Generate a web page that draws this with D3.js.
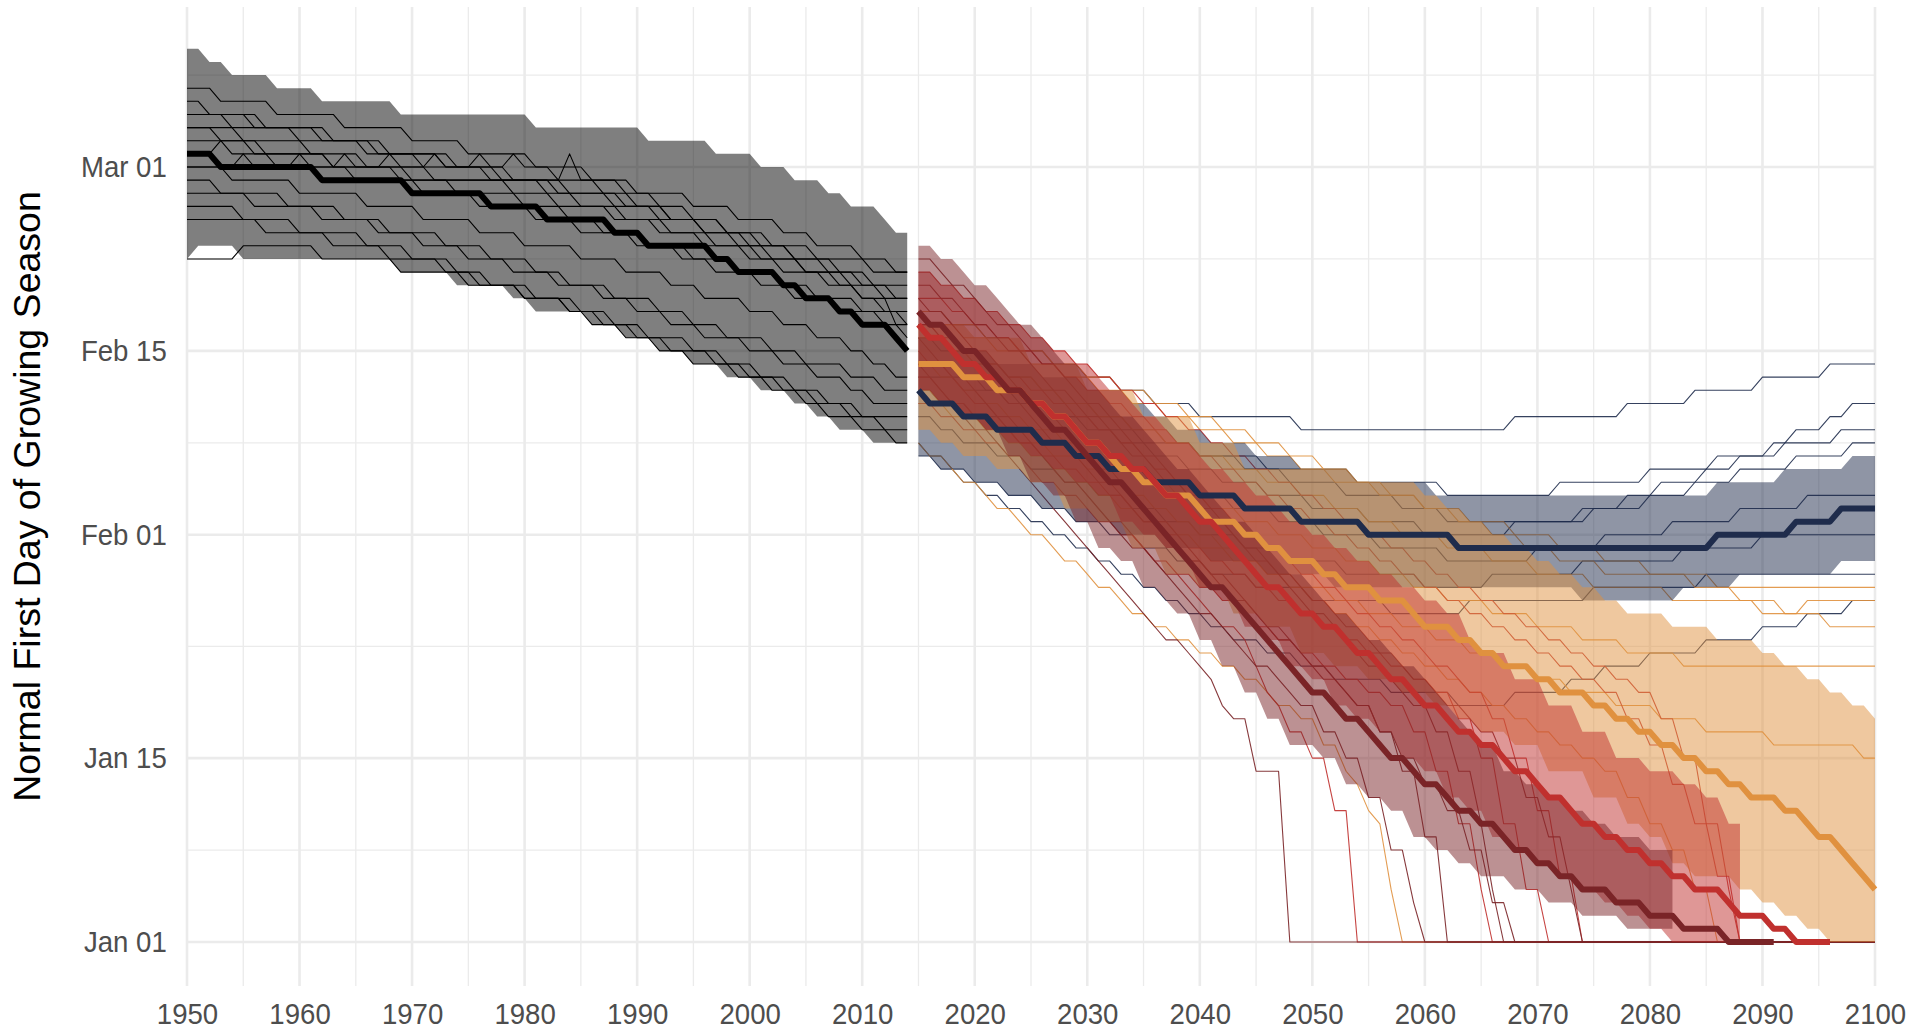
<!DOCTYPE html>
<html lang="en">
<head>
<meta charset="UTF-8">
<title>Normal First Day of Growing Season</title>
<script src="https://d3js.org/d3.v7.min.js"></script>
<style>
  body { margin: 0; background: #fff; }
  svg { display: block; }
</style>
</head>
<body>
<svg id="chart" width="1911" height="1033"></svg>
<script>
// Every series is a list of [year, day-of-year] change points: the value holds
// until the next change point (one value per year, as in the source data).

const yearTicks = d3.range(1950, 2101, 10);
const dayTicks = [1, 15, 32, 46, 60];   // Jan 01, Jan 15, Feb 01, Feb 15, Mar 01

// ---- historical ensemble, 1950-2014
const histMedian = [[1950,61],[1953,60],[1962,59],[1970,58],[1977,57],[1982,56],[1988,55],[1991,54],[1997,53],[1999,52],[2003,51],[2005,50],[2008,49],[2010,48],[2013,47],[2014,46]];
const histUpper = [[1950,69],[1952,68],[1954,67],[1958,66],[1962,65],[1969,64],[1981,63],[1991,62],[1997,61],[2001,60],[2004,59],[2007,58],[2009,57],[2012,56],[2013,55]];
const histLower = [[1950,53],[1951,54],[1955,53],[1969,52],[1974,51],[1979,50],[1981,49],[1986,48],[1989,47],[1992,46],[1995,45],[1998,44],[2001,43],[2004,42],[2006,41],[2008,40],[2011,39]];
const histMembers = [
  [[1950,66],[1953,65],[1958,64],[1964,63],[1970,62],[1975,61],[1981,60],[1986,59],[1990,58],[1995,57],[1999,56],[2003,55],[2006,54],[2010,53],[2013,52]],
  [[1950,65],[1952,64],[1957,63],[1962,62],[1967,61],[1973,60],[1978,59],[1983,58],[1988,57],[1992,56],[1996,55],[2000,54],[2004,53],[2008,52],[2011,51]],
  [[1950,64],[1954,63],[1960,62],[1966,61],[1971,60],[1977,59],[1982,58],[1985,57],[1989,56],[1993,55],[1997,54],[2001,53],[2005,52],[2009,51],[2012,50]],
  [[1950,63],[1953,62],[1956,61],[1963,60],[1969,59],[1974,58],[1980,57],[1984,56],[1987,55],[1991,54],[1995,53],[1999,52],[2003,51],[2006,50],[2010,49]],
  [[1950,63],[1955,62],[1961,61],[1966,60],[1972,59],[1979,58],[1983,57],[1988,56],[1992,55],[1996,54],[2000,53],[2003,52],[2007,51],[2010,50],[2013,48]],
  [[1950,62],[1954,61],[1958,60],[1965,59],[1971,58],[1976,57],[1981,56],[1985,55],[1990,54],[1994,53],[1997,52],[2001,51],[2004,50],[2008,49],[2012,48],[2014,47]],
  [[1950,60],[1955,61],[1956,60],[1960,61],[1961,60],[1964,61],[1965,60],[1968,61],[1969,60],[1972,61],[1973,60],[1976,61],[1977,60],[1979,61],[1980,60],[1983,59],[1987,58],[1990,57],[1993,56],[1996,55],[1999,54],[2002,53],[2005,52],[2008,51],[2010,50],[2012,49],[2014,48]],
  [[1950,59],[1953,58],[1959,57],[1964,56],[1968,55],[1973,54],[1977,53],[1981,52],[1984,51],[1988,50],[1992,49],[1995,48],[1998,47],[2002,46],[2005,45],[2009,44],[2012,43]],
  [[1950,58],[1956,57],[1962,56],[1967,55],[1971,54],[1975,53],[1979,52],[1983,51],[1987,50],[1990,49],[1993,48],[1996,47],[2000,46],[2003,45],[2006,44],[2009,43],[2011,42]],
  [[1950,57],[1955,56],[1960,55],[1966,54],[1970,53],[1974,52],[1977,51],[1981,50],[1985,49],[1988,48],[1991,47],[1995,46],[1998,45],[2001,44],[2004,43],[2007,42],[2010,41]],
  [[1950,56],[1957,55],[1963,54],[1968,53],[1973,52],[1976,51],[1980,50],[1984,49],[1987,48],[1990,47],[1993,46],[1997,45],[2000,44],[2003,43],[2006,42],[2009,41],[2012,40]],
  [[1950,53],[1955,54],[1962,53],[1969,52],[1975,51],[1980,50],[1984,49],[1986,48],[1989,47],[1992,46],[1995,45],[1999,44],[2002,43],[2005,42],[2007,41],[2010,40],[2013,39]],
  [[1950,61],[1953,62],[1957,61],[1963,60],[1970,59],[1984,61],[1985,59],[1989,58],[1992,57],[1995,56],[1998,55],[2001,54],[2004,53],[2007,52],[2010,51],[2013,50]],
  [[1950,64],[1956,63],[1963,62],[1968,61],[1974,60],[1979,59],[1984,58],[1989,57],[1993,56],[1998,55],[2002,54],[2006,53],[2011,52]],
  [[1950,60],[1954,59],[1960,58],[1966,57],[1971,56],[1976,55],[1980,54],[1985,53],[1989,52],[1993,51],[1996,50],[2000,49],[2003,48],[2006,47],[2009,46],[2011,45],[2013,44]]
];

// ---- RCP 2.6 (navy)
const navyMedian = [[2015,43],[2016,42],[2019,41],[2022,40],[2026,39],[2029,38],[2032,37],[2036,36],[2040,35],[2044,34],[2049,33],[2055,32],[2063,31],[2086,32],[2093,33],[2097,34]];
const navyUpper = [[2015,47],[2018,46],[2022,45],[2026,44],[2030,43],[2034,42],[2036,41],[2038,40],[2041,39],[2045,38],[2049,37],[2054,36],[2061,35],[2086,36],[2092,37],[2098,38]];
const navyLower = [[2015,38],[2017,37],[2020,36],[2023,35],[2026,34],[2029,33],[2033,32],[2037,31],[2041,30],[2046,29],[2052,28],[2074,27],[2083,28],[2088,29],[2097,30]];
const navyMembers = [
  [[2015,49],[2018,48],[2021,47],[2024,46],[2027,45],[2030,44],[2033,43],[2036,42],[2040,41],[2049,40],[2068,41],[2078,42],[2084,43],[2090,44],[2096,45]],
  [[2015,47],[2017,46],[2020,45],[2023,44],[2026,43],[2028,42],[2031,41],[2034,40],[2037,39],[2040,38],[2044,37],[2048,36],[2053,35],[2058,34],[2062,33],[2070,33],[2074,34],[2078,35],[2081,36],[2085,37],[2088,38],[2091,39],[2093,40],[2096,41],[2098,42]],
  [[2015,45],[2018,44],[2021,43],[2024,42],[2027,41],[2030,40],[2033,39],[2036,38],[2039,37],[2042,36],[2046,35],[2050,34],[2055,33],[2060,32],[2068,33],[2075,34],[2080,35],[2084,36],[2088,37],[2093,38],[2098,39]],
  [[2015,43],[2017,42],[2020,41],[2023,40],[2026,39],[2029,38],[2032,37],[2035,36],[2039,35],[2043,34],[2047,33],[2051,32],[2056,31],[2062,30],[2070,31],[2076,32],[2082,33],[2088,34],[2094,35]],
  [[2015,41],[2017,40],[2019,39],[2022,38],[2025,37],[2028,36],[2031,35],[2034,34],[2037,33],[2040,32],[2044,31],[2048,30],[2053,29],[2060,28],[2066,29],[2074,30],[2083,31],[2090,32]],
  [[2015,39],[2016,38],[2018,37],[2020,36],[2023,35],[2026,34],[2029,33],[2032,32],[2035,31],[2038,30],[2041,29],[2045,28],[2050,27],[2057,26],[2064,27],[2075,28],[2085,29]],
  [[2015,38],[2017,37],[2019,36],[2021,35],[2023,34],[2025,33],[2027,32],[2029,31],[2031,30],[2033,29],[2035,28],[2037,27],[2039,26],[2041,25],[2043,24],[2046,23],[2049,22],[2052,21],[2057,20],[2063,19],[2068,20],[2073,21],[2076,22],[2080,23],[2085,24],[2090,25],[2094,26],[2098,27]],
  [[2015,44],[2019,43],[2023,42],[2027,41],[2031,40],[2035,39],[2040,38],[2046,37],[2054,36],[2062,35],[2072,36],[2080,37],[2086,38],[2092,39],[2097,40]]
];

// ---- RCP 4.5 (orange)
const orangeMedian = [[2015,45],[2019,44],[2022,43],[2025,42],[2027,41],[2029,40],[2030,39],[2032,38],[2033,37],[2035,36],[2037,35],[2040,34],[2041,33],[2044,32],[2046,31],[2048,30],[2051,29],[2053,28],[2056,27],[2059,26],[2060,25],[2063,24],[2065,23],[2067,22],[2070,21],[2072,20],[2075,19],[2077,18],[2079,17],[2081,16],[2083,15],[2085,14],[2087,13],[2089,12],[2092,11],[2094,10],[2095,9],[2097,8],[2098,7],[2099,6],[2100,5]];
const orangeUpper = [[2015,48],[2020,47],[2025,45],[2030,43],[2035,41],[2040,39],[2044,37],[2054,36],[2060,35],[2062,34],[2064,33],[2066,32],[2068,31],[2070,30],[2072,29],[2074,28],[2076,27],[2078,26],[2082,25],[2086,24],[2090,23],[2092,22],[2094,21],[2096,20],[2098,19],[2100,18]];
const orangeLower = [[2015,40],[2017,39],[2019,38],[2022,37],[2025,36],[2028,34],[2031,33],[2034,31],[2037,29],[2040,28],[2043,26],[2046,25],[2049,23],[2052,22],[2055,21],[2058,20],[2061,19],[2063,18],[2065,17],[2068,16],[2071,14],[2075,12],[2078,10],[2080,9],[2082,7],[2084,6],[2088,5],[2090,4],[2092,3],[2094,2],[2096,1]];
const orangeMembers = [
  [[2015,49],[2018,48],[2021,47],[2024,46],[2027,45],[2030,44],[2033,43],[2036,42],[2039,41],[2042,40],[2045,39],[2048,38],[2051,37],[2054,36],[2057,35],[2060,34],[2063,33],[2066,32],[2069,31],[2072,30],[2076,29],[2086,28]],
  [[2015,47],[2018,46],[2020,45],[2023,44],[2026,43],[2028,42],[2031,41],[2034,40],[2037,39],[2040,38],[2043,37],[2046,36],[2049,35],[2052,34],[2055,33],[2058,32],[2062,31],[2066,30],[2070,29],[2075,28],[2082,27],[2090,26],[2094,27]],
  [[2015,45],[2017,44],[2019,43],[2021,42],[2023,41],[2025,40],[2028,39],[2030,38],[2032,37],[2035,36],[2038,35],[2041,34],[2044,33],[2047,32],[2050,31],[2053,30],[2056,29],[2059,28],[2062,27],[2066,26],[2070,25],[2074,24],[2078,23],[2083,22]],
  [[2015,43],[2017,42],[2019,41],[2021,40],[2023,39],[2025,38],[2027,37],[2029,36],[2031,35],[2033,34],[2035,33],[2038,32],[2040,31],[2043,30],[2046,29],[2049,28],[2052,27],[2055,26],[2058,25],[2061,24],[2064,23],[2067,22],[2070,21],[2073,20],[2077,19],[2081,18],[2085,17],[2091,16],[2099,15]],
  [[2015,39],[2016,38],[2018,37],[2019,36],[2021,35],[2022,34],[2024,33],[2025,32],[2027,31],[2028,30],[2030,29],[2031,28],[2033,27],[2034,26],[2036,25],[2038,24],[2040,23],[2042,22],[2044,21],[2046,20],[2047,19],[2049,18],[2051,16],[2053,14],[2054,13],[2055,11],[2056,10],[2057,5],[2058,1]],
  [[2015,42],[2018,41],[2021,40],[2024,39],[2027,38],[2030,37],[2032,36],[2034,35],[2036,34],[2038,33],[2040,32],[2042,31],[2044,30],[2046,29],[2048,28],[2050,27],[2052,26],[2054,25],[2056,24],[2058,23],[2060,22],[2062,21],[2064,20],[2066,19],[2068,18],[2070,17],[2072,16],[2074,15],[2076,14],[2078,12],[2080,10],[2082,8],[2084,5],[2086,1]],
  [[2015,48],[2019,47],[2022,46],[2025,45],[2028,44],[2031,43],[2034,42],[2037,41],[2040,40],[2043,39],[2046,38],[2049,37],[2052,36],[2056,35],[2060,34],[2064,33],[2068,32],[2072,31],[2076,30],[2080,29],[2084,28],[2088,27],[2092,26],[2096,25]]
];

// ---- RCP 6.0 (red)
const redMedian = [[2015,48],[2016,47],[2018,46],[2019,45],[2021,44],[2023,43],[2025,42],[2027,41],[2029,40],[2030,39],[2032,38],[2034,37],[2036,36],[2037,35],[2039,34],[2040,33],[2042,32],[2043,31],[2044,30],[2045,29],[2046,28],[2048,27],[2049,26],[2051,25],[2053,24],[2054,23],[2056,22],[2057,21],[2059,20],[2060,19],[2062,18],[2063,17],[2065,16],[2067,15],[2068,14],[2070,13],[2071,12],[2073,11],[2074,10],[2076,9],[2078,8],[2080,7],[2082,6],[2084,5],[2087,4],[2088,3],[2091,2],[2093,1]];
const redUpper = [[2015,52],[2017,51],[2019,50],[2021,49],[2023,48],[2025,47],[2027,46],[2029,45],[2031,44],[2032,43],[2034,42],[2035,41],[2037,40],[2038,39],[2040,38],[2041,37],[2043,36],[2045,35],[2047,34],[2048,33],[2050,32],[2052,31],[2054,30],[2056,29],[2058,28],[2060,27],[2062,26],[2064,24],[2065,23],[2068,21],[2071,19],[2074,17],[2077,15],[2080,14],[2083,13],[2085,12],[2087,10]];
const redLower = [[2015,43],[2017,42],[2019,41],[2021,40],[2023,39],[2025,38],[2027,37],[2029,36],[2031,35],[2033,33],[2035,32],[2037,31],[2039,30],[2040,28],[2042,27],[2044,25],[2046,24],[2048,22],[2050,21],[2052,19],[2054,18],[2056,17],[2058,15],[2060,14],[2062,12],[2064,11],[2066,9],[2068,8],[2070,7],[2072,6],[2074,5],[2076,4],[2078,3],[2080,2],[2082,1]];
const redMembers = [
  [[2015,52],[2017,51],[2019,50],[2021,49],[2023,48],[2025,47],[2027,46],[2029,45],[2031,44],[2033,43],[2035,42],[2037,41],[2039,40],[2041,39],[2043,38],[2045,37],[2047,36],[2049,35],[2051,34],[2053,33],[2055,32],[2057,31],[2059,30],[2061,29],[2063,28],[2065,27],[2067,26],[2069,25],[2071,24],[2073,23],[2075,22],[2077,21],[2079,20],[2081,18],[2083,15],[2085,10],[2087,5],[2088,1]],
  [[2015,46],[2016,45],[2018,44],[2019,43],[2020,42],[2022,41],[2023,40],[2024,39],[2026,38],[2027,37],[2028,36],[2030,35],[2031,34],[2032,33],[2034,32],[2035,31],[2036,30],[2037,29],[2039,28],[2040,27],[2041,26],[2042,25],[2044,24],[2045,22],[2046,20],[2047,19],[2048,17],[2050,15],[2052,11],[2054,1]],
  [[2015,48],[2017,47],[2019,46],[2021,45],[2023,44],[2025,43],[2027,42],[2029,41],[2031,40],[2033,39],[2035,38],[2036,37],[2038,36],[2040,35],[2041,34],[2043,33],[2044,32],[2046,31],[2048,30],[2049,29],[2051,28],[2053,27],[2054,26],[2056,25],[2058,24],[2060,23],[2061,22],[2063,21],[2064,20],[2066,18],[2068,15],[2070,11],[2072,6],[2074,1]],
  [[2015,44],[2017,43],[2018,42],[2020,41],[2022,40],[2024,39],[2026,38],[2028,37],[2030,36],[2032,35],[2034,34],[2035,33],[2037,32],[2039,31],[2041,30],[2043,29],[2045,28],[2047,27],[2049,26],[2051,25],[2053,24],[2055,23],[2057,22],[2059,21],[2061,20],[2063,18],[2065,15],[2067,10],[2069,5],[2071,1]],
  [[2015,50],[2018,49],[2020,48],[2022,47],[2024,46],[2026,45],[2028,44],[2030,43],[2032,42],[2034,41],[2036,40],[2038,39],[2040,38],[2042,37],[2044,36],[2046,35],[2048,34],[2050,33],[2052,32],[2054,31],[2056,30],[2058,29],[2060,28],[2062,27],[2064,26],[2066,25],[2068,24],[2070,23],[2072,22],[2074,21],[2076,20],[2078,18],[2080,16],[2082,13],[2084,10],[2086,6],[2088,1]],
  [[2015,42],[2017,41],[2019,40],[2021,39],[2023,38],[2025,37],[2026,36],[2028,35],[2030,34],[2031,33],[2033,32],[2035,31],[2036,30],[2038,29],[2040,28],[2042,27],[2044,26],[2045,25],[2047,24],[2049,23],[2051,22],[2053,21],[2055,20],[2057,19],[2059,17],[2061,14],[2063,10],[2065,5],[2066,1]]
];

// ---- RCP 8.5 (dark red)
const darkMedian = [[2015,49],[2016,48],[2018,47],[2019,46],[2021,45],[2022,44],[2023,43],[2025,42],[2026,41],[2027,40],[2029,39],[2030,38],[2031,37],[2032,36],[2034,35],[2035,34],[2036,33],[2037,32],[2038,31],[2039,30],[2040,29],[2041,28],[2043,27],[2044,26],[2045,25],[2046,24],[2047,23],[2048,22],[2049,21],[2050,20],[2052,19],[2053,18],[2055,17],[2056,16],[2057,15],[2059,14],[2060,13],[2062,12],[2063,11],[2065,10],[2067,9],[2068,8],[2070,7],[2072,6],[2074,5],[2077,4],[2080,3],[2083,2],[2087,1]];
const darkUpper = [[2015,54],[2017,53],[2019,52],[2020,51],[2022,50],[2023,49],[2024,48],[2026,47],[2027,46],[2028,45],[2030,44],[2031,43],[2032,42],[2033,41],[2035,40],[2036,39],[2037,38],[2038,37],[2040,36],[2041,35],[2042,34],[2043,33],[2045,32],[2046,31],[2047,30],[2048,29],[2050,28],[2051,27],[2052,26],[2054,25],[2055,24],[2057,23],[2058,22],[2060,21],[2061,20],[2062,19],[2063,18],[2064,17],[2065,16],[2067,14],[2069,13],[2071,12],[2073,11],[2075,10],[2077,9],[2080,8]];
const darkLower = [[2015,43],[2017,42],[2019,41],[2021,40],[2023,38],[2025,36],[2027,35],[2029,33],[2031,31],[2033,30],[2035,28],[2037,27],[2038,26],[2040,24],[2042,22],[2044,20],[2046,18],[2048,16],[2051,15],[2053,13],[2055,12],[2057,11],[2059,9],[2061,8],[2063,7],[2065,6],[2068,5],[2071,4],[2074,3],[2078,2]];
const darkMembers = [
  [[2015,45],[2016,44],[2017,43],[2018,42],[2019,41],[2020,40],[2022,39],[2023,38],[2024,37],[2025,36],[2026,35],[2027,34],[2028,33],[2029,32],[2030,31],[2031,30],[2032,29],[2033,28],[2034,27],[2035,26],[2036,25],[2037,24],[2039,23],[2040,22],[2041,21],[2042,19],[2043,18],[2045,14],[2048,1]],
  [[2015,53],[2017,52],[2018,51],[2020,50],[2021,49],[2022,48],[2024,47],[2025,46],[2026,45],[2028,44],[2029,43],[2030,42],[2032,41],[2033,40],[2034,39],[2035,38],[2037,37],[2038,36],[2039,35],[2040,34],[2042,33],[2043,32],[2044,31],[2045,30],[2047,29],[2048,28],[2049,27],[2050,26],[2052,25],[2053,24],[2054,23],[2055,22],[2057,21],[2058,20],[2059,19],[2061,17],[2063,14],[2065,10],[2066,5],[2067,1]],
  [[2015,50],[2016,49],[2018,48],[2019,47],[2020,46],[2022,45],[2023,44],[2024,43],[2025,42],[2027,41],[2028,40],[2029,39],[2030,38],[2031,37],[2033,36],[2034,35],[2035,34],[2036,33],[2038,32],[2039,31],[2040,30],[2041,29],[2043,28],[2044,27],[2045,26],[2046,25],[2048,24],[2049,23],[2050,22],[2052,21],[2053,20],[2054,19],[2056,17],[2058,14],[2060,9],[2062,1]],
  [[2015,47],[2016,46],[2017,45],[2019,44],[2020,43],[2021,42],[2022,41],[2024,40],[2025,39],[2026,38],[2027,37],[2028,36],[2030,35],[2031,34],[2032,33],[2033,32],[2034,31],[2036,30],[2037,29],[2038,28],[2039,27],[2040,26],[2042,25],[2043,24],[2044,23],[2045,22],[2047,21],[2048,20],[2049,19],[2051,17],[2053,15],[2055,12],[2057,8],[2059,4],[2060,1]],
  [[2015,51],[2017,50],[2019,49],[2020,48],[2022,47],[2023,46],[2025,45],[2026,44],[2027,43],[2029,42],[2030,41],[2032,40],[2033,39],[2034,38],[2036,37],[2037,36],[2039,35],[2040,34],[2041,33],[2043,32],[2044,31],[2046,30],[2047,29],[2049,28],[2050,27],[2052,26],[2053,25],[2055,24],[2056,23],[2058,22],[2059,21],[2061,20],[2062,19],[2064,18],[2065,17],[2067,15],[2069,12],[2071,9],[2073,5],[2074,1]],
  [[2015,48],[2017,47],[2018,46],[2019,45],[2021,44],[2022,43],[2023,42],[2025,41],[2026,40],[2027,39],[2029,38],[2030,37],[2031,36],[2033,35],[2034,34],[2035,33],[2037,32],[2038,31],[2039,30],[2041,29],[2042,28],[2043,27],[2045,26],[2046,25],[2047,24],[2049,23],[2050,22],[2051,21],[2053,20],[2054,19],[2056,17],[2058,15],[2060,13],[2062,11],[2064,8],[2066,4],[2068,1]]
];

// scenario table built from the arrays above (draw order = ribbon stacking order)
const scenarios = [
  {color: "#1f2c4c", median: navyMedian,   upper: navyUpper,   lower: navyLower,   members: navyMembers,   bandEnd: 2100, medianEnd: 2100},
  {color: "#e0913f", median: orangeMedian, upper: orangeUpper, lower: orangeLower, members: orangeMembers, bandEnd: 2100, medianEnd: 2100},
  {color: "#c0302e", median: redMedian,    upper: redUpper,    lower: redLower,    members: redMembers,    bandEnd: 2088, medianEnd: 2096},
  {color: "#7a2427", median: darkMedian,   upper: darkUpper,   lower: darkLower,   members: darkMembers,   bandEnd: 2082, medianEnd: 2091}
];

const svg = d3.select("#chart");
const pLeft = 187, pRight = 1875, pTop = 7, pBottom = 986;

const x = d3.scaleLinear().domain([1950, 2100]).range([pLeft, pRight]);
const asDate = d => new Date(Date.UTC(2001, 0, 1) + (d - 1) * 864e5);
const y = d3.scaleUtc().domain([asDate(1), asDate(60)]).range([942, 167]);

// yearly values from change points
function valueAt(pairs, yr) {
  let v = pairs[0][1];
  for (const [yy, d] of pairs) if (yy <= yr) v = d;
  return v;
}
function yearly(pairs, end) {
  return d3.range(pairs[0][0], end + 1).map(yr => ({year: yr, day: valueAt(pairs, yr)}));
}
function band(upper, lower, start, end) {
  return d3.range(start, end + 1).map(yr => ({year: yr, hi: valueAt(upper, yr), lo: valueAt(lower, yr)}));
}

const line = d3.line().x(d => x(d.year)).y(d => y(asDate(d.day)));
const area = d3.area().x(d => x(d.year)).y0(d => y(asDate(d.lo))).y1(d => y(asDate(d.hi)));

// grid
const grid = svg.append("g");
const minorYears = d3.range(1955, 2100, 10);
const minorDays = [8, 23.5, 39, 53, 67];
grid.selectAll(".vminor").data(minorYears).enter().append("line")
  .attr("x1", d => x(d)).attr("x2", d => x(d)).attr("y1", pTop).attr("y2", pBottom)
  .attr("stroke", "#ebebeb").attr("stroke-width", 1.3);
grid.selectAll(".hminor").data(minorDays).enter().append("line")
  .attr("x1", pLeft).attr("x2", pRight).attr("y1", d => y(asDate(d))).attr("y2", d => y(asDate(d)))
  .attr("stroke", "#ebebeb").attr("stroke-width", 1.3);
grid.selectAll(".vmajor").data(yearTicks).enter().append("line")
  .attr("x1", d => x(d)).attr("x2", d => x(d)).attr("y1", pTop).attr("y2", pBottom)
  .attr("stroke", "#ebebeb").attr("stroke-width", 2.6);
grid.selectAll(".hmajor").data(dayTicks).enter().append("line")
  .attr("x1", pLeft).attr("x2", pRight).attr("y1", d => y(asDate(d))).attr("y2", d => y(asDate(d)))
  .attr("stroke", "#ebebeb").attr("stroke-width", 2.6);

// thin ensemble members (under the ribbons)
const thin = svg.append("g").attr("fill", "none").attr("stroke-width", 1.1).attr("stroke-linejoin", "round");
histMembers.forEach(m => thin.append("path").attr("d", line(yearly(m, 2014))).attr("stroke", "#000"));
scenarios.forEach(s => s.members.forEach(m =>
  thin.append("path").attr("d", line(yearly(m, 2100))).attr("stroke", s.color).attr("stroke-opacity", 0.9)));

// ribbons
svg.append("path").attr("d", area(band(histUpper, histLower, 1950, 2014)))
  .attr("fill", "#000").attr("fill-opacity", 0.5);
scenarios.forEach(s => svg.append("path").attr("d", area(band(s.upper, s.lower, 2015, s.bandEnd)))
  .attr("fill", s.color).attr("fill-opacity", 0.5));

// medians
const thick = svg.append("g").attr("fill", "none").attr("stroke-width", 6).attr("stroke-linejoin", "round");
thick.append("path").attr("d", line(yearly(histMedian, 2014))).attr("stroke", "#000");
scenarios.forEach(s => thick.append("path").attr("d", line(yearly(s.median, s.medianEnd))).attr("stroke", s.color));

// axes
const squeeze = 0.92;
const xAxis = svg.append("g").attr("transform", `translate(0,${pBottom})`)
  .call(d3.axisBottom(x).tickValues(yearTicks).tickFormat(d3.format("d")).tickSize(0).tickPadding(17));
const yAxis = svg.append("g").attr("transform", `translate(${pLeft},0)`)
  .call(d3.axisLeft(y).tickValues(dayTicks.map(asDate)).tickFormat(d3.utcFormat("%b %d")).tickSize(0).tickPadding(22));
[xAxis, yAxis].forEach(a => {
  a.select(".domain").remove();
  a.selectAll("text").attr("font-family", "Liberation Sans, Arial, sans-serif").attr("font-size", 30)
    .attr("fill", "#4d4d4d").attr("transform", `scale(${squeeze},1)`);
});

svg.append("text")
  .attr("transform", `translate(40,${(pTop + pBottom) / 2}) rotate(-90)`)
  .attr("text-anchor", "middle")
  .attr("font-family", "Liberation Sans, Arial, sans-serif").attr("font-size", 37.5)
  .attr("fill", "#000")
  .text("Normal First Day of Growing Season");
</script>
</body>
</html>
